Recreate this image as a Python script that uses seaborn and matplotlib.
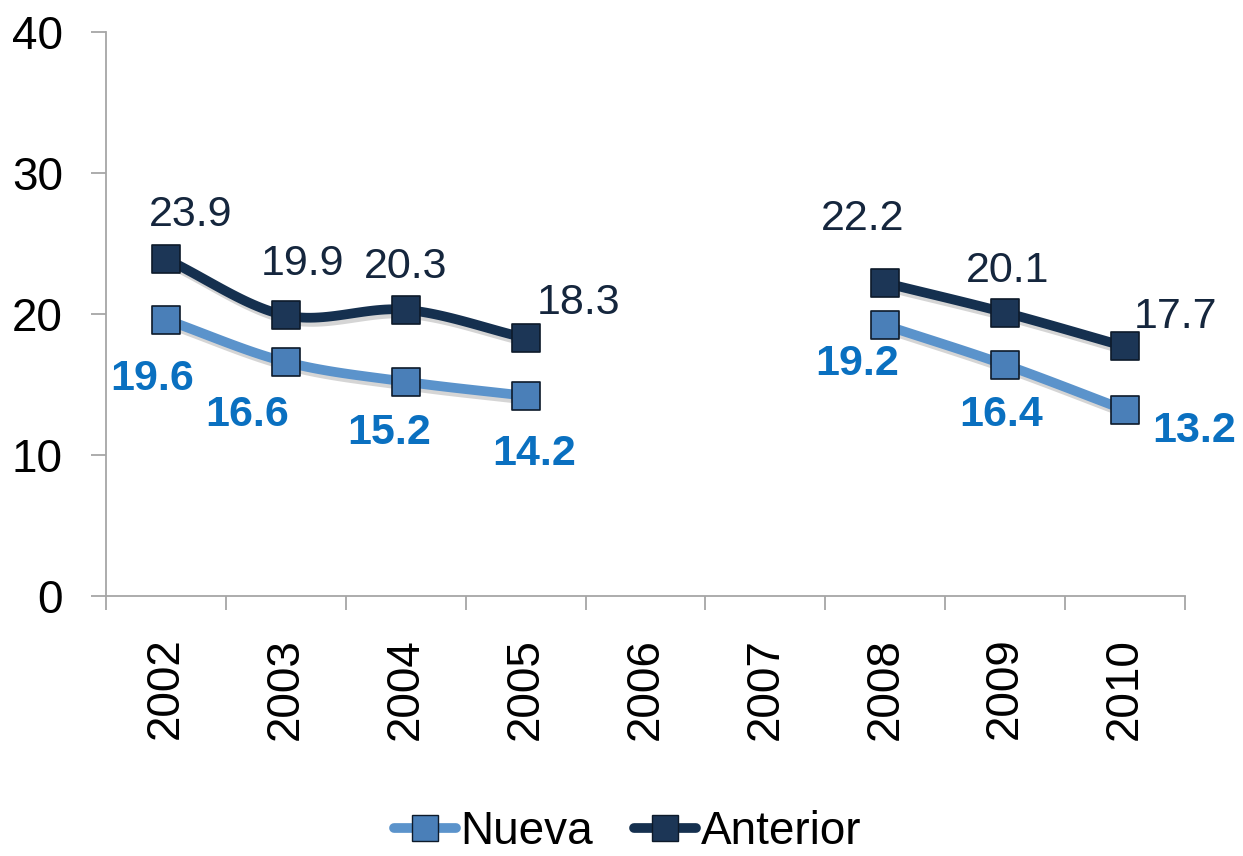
import numpy as np
import pandas as pd
import seaborn as sns
import matplotlib.pyplot as plt
import matplotlib.patheffects as pe
from matplotlib.lines import Line2D

# datos del grafico
years = ['2002', '2003', '2004', '2005', '2006', '2007', '2008', '2009', '2010']
nueva = [19.6, 16.6, 15.2, 14.2, None, None, 19.2, 16.4, 13.2]
anterior = [23.9, 19.9, 20.3, 18.3, None, None, 22.2, 20.1, 17.7]

# desplazamiento de etiquetas (puntos)
off_nueva = [(-10, -43), (-28, -38), (-12, -37), (6, -42), None, None, (-20, -28), (-3, -36), (50, -15)]
off_anterior = [(18, 32), (12, 37), (0, 31), (38, 25), None, None, (-16, 46), (2, 30), (36, 21)]

c_nueva_line = '#5b93cb'
c_nueva_mark = '#4a7fb8'
c_nueva_text = '#0a70c0'
c_ant_line = '#15304f'
c_ant_mark = '#1c3656'
c_ant_text = '#15263d'
c_axis = '#a6a6a6'

sns.set_style('white')
plt.rcParams['font.family'] = ['Liberation Sans', 'DejaVu Sans']
plt.rcParams['text.color'] = 'black'
plt.rcParams['xtick.color'] = c_axis
plt.rcParams['ytick.color'] = c_axis
plt.rcParams['xtick.labelcolor'] = 'black'
plt.rcParams['ytick.labelcolor'] = 'black'

df = pd.DataFrame({'year': years, 'Nueva': nueva, 'Anterior': anterior})
df['x'] = np.arange(len(years))


def smooth(xs, ys, n=30):
    # curva Catmull-Rom como las lineas suavizadas de Excel
    xs = np.asarray(xs, float)
    ys = np.asarray(ys, float)
    if len(xs) < 3:
        return xs, ys
    px = np.concatenate([[2 * xs[0] - xs[1]], xs, [2 * xs[-1] - xs[-2]]])
    py = np.concatenate([[2 * ys[0] - ys[1]], ys, [2 * ys[-1] - ys[-2]]])
    ox, oy = [], []
    t = np.linspace(0, 1, n)
    for i in range(1, len(px) - 2):
        for p, o in ((px, ox), (py, oy)):
            p0, p1, p2, p3 = p[i - 1], p[i], p[i + 1], p[i + 2]
            o.extend(0.5 * (2 * p1 + (-p0 + p2) * t + (2 * p0 - 5 * p1 + 4 * p2 - p3) * t ** 2
                            + (-p0 + 3 * p1 - 3 * p2 + p3) * t ** 3))
    return np.array(ox), np.array(oy)


fig = plt.figure(figsize=(12.43, 8.56), dpi=100)
ax = fig.add_axes([0.0853, 0.3037, 0.868, 0.6589])

shadow = [pe.SimpleLineShadow(offset=(2, -3), shadow_color='#888888', alpha=0.35), pe.Normal()]

series = [('Nueva', c_nueva_line, c_nueva_mark, c_nueva_text, off_nueva, 'bold'),
          ('Anterior', c_ant_line, c_ant_mark, c_ant_text, off_anterior, 'normal')]

for name, lc, mc, tc, offs, fw in series:
    sub = df.dropna(subset=[name])
    # segmentos separados por los huecos
    groups = (sub['x'].diff() != 1).cumsum()
    for _, seg in sub.groupby(groups):
        sx, sy = smooth(seg['x'], seg[name])
        ax.plot(sx, sy, color=lc, lw=7, solid_capstyle='round', zorder=2, path_effects=shadow)
    sns.scatterplot(data=sub, x='x', y=name, marker='s', s=400, color=mc,
                    edgecolor='#0d1a2a', linewidth=1.2, zorder=3, ax=ax, legend=False)
    for xi, v, off in zip(sub['x'], sub[name], [offs[i] for i in sub['x']]):
        ax.annotate(f'{v:.1f}', (xi, v), xytext=off, textcoords='offset points',
                    ha='center', va='center', fontsize=31, color=tc, fontweight=fw)

ax.set_xlim(-0.5, len(years) - 0.5)
ax.set_ylim(0, 40)
ax.set_yticks([0, 10, 20, 30, 40])
ax.set_xticks(np.arange(len(years)))
ax.set_xticklabels(years, rotation=90)
ax.set_xticks(np.arange(-0.5, len(years)), minor=True)
ax.tick_params(axis='x', which='major', bottom=True, length=0, labelsize=33, pad=30)
ax.tick_params(axis='x', which='minor', bottom=True, length=10, width=1.3, direction='out')
ax.tick_params(axis='y', left=True, length=11, width=1.3, direction='out', labelsize=33, pad=20)
ax.set_xlabel('')
ax.set_ylabel('')
for s in ['top', 'right']:
    ax.spines[s].set_visible(False)
for s in ['left', 'bottom']:
    ax.spines[s].set_color(c_axis)
    ax.spines[s].set_linewidth(1.3)

handles = [Line2D([], [], color=c_nueva_line, lw=7, marker='s', markersize=19,
                  markerfacecolor=c_nueva_mark, markeredgecolor='#0d1a2a', solid_capstyle='round'),
           Line2D([], [], color=c_ant_line, lw=7, marker='s', markersize=19,
                  markerfacecolor=c_ant_mark, markeredgecolor='#0d1a2a', solid_capstyle='round')]
fig.legend(handles, ['Nueva', 'Anterior'], loc='center', bbox_to_anchor=(0.505, 0.028),
           ncol=2, frameon=False, fontsize=33, handlelength=1.35, handletextpad=0.1,
           columnspacing=0.9)

fig.savefig('out.png', dpi=100)
